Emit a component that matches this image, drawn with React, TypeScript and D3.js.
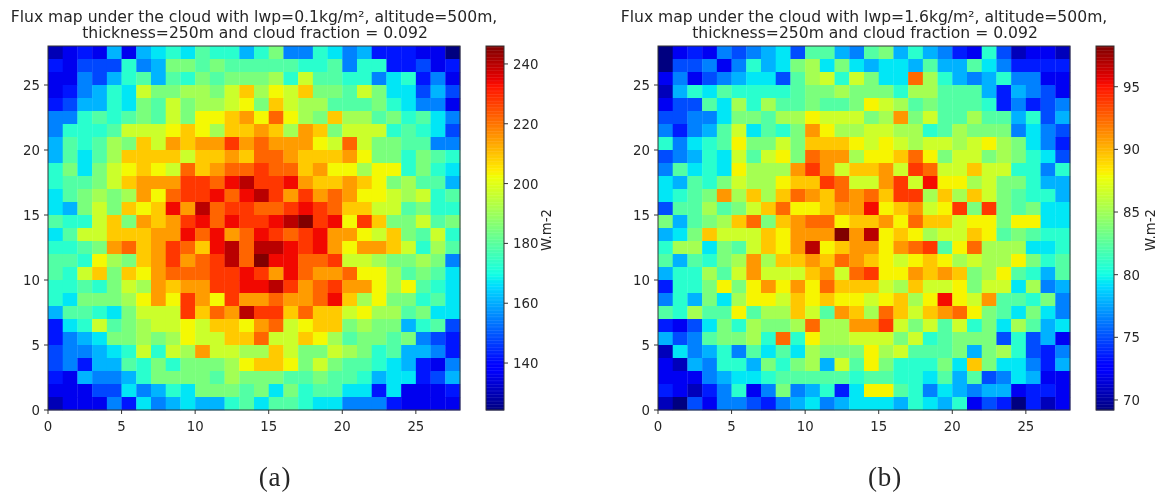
import React from "react";
import * as d3 from "d3";

const WIDTH = 1161;
const HEIGHT = 496;
const gridSize = 28;
const axisTicks = [0, 5, 10, 15, 20, 25];
const colorbarTicksA = [140, 160, 180, 200, 220, 240];
const colorbarTicksB = [70, 75, 80, 85, 90, 95];
const domainA: [number, number] = [124.3, 246];
const domainB: [number, number] = [69.2, 98.25];
const titleA = ["Flux map under the cloud with lwp=0.1kg/m², altitude=500m,", "thickness=250m and cloud fraction = 0.092"];
const titleB = ["Flux map under the cloud with lwp=1.6kg/m², altitude=500m,", "thickness=250m and cloud fraction = 0.092"];
const unitLabel = "W.m-2";

// rows from the top of the map (y = 27) to the bottom (y = 0)
const fluxA: number[][] = [
[130,136,142,136,161,136,161,167,173,167,179,173,173,161,173,185,155,155,173,167,155,161,142,142,142,136,136,124],
[142,136,148,148,148,173,155,161,185,185,179,185,179,179,179,179,179,173,173,179,155,173,173,142,142,148,136,142],
[136,136,155,148,161,173,179,161,179,173,185,179,185,185,185,191,173,197,179,179,173,173,155,167,173,142,155,136],
[136,142,155,161,173,167,197,185,185,191,191,185,197,209,191,203,197,209,185,185,179,197,185,167,167,148,161,148],
[142,148,161,161,173,167,185,179,197,185,191,191,197,203,185,209,197,191,191,179,179,179,185,173,167,155,155,136],
[155,155,173,179,173,179,185,179,197,185,203,203,209,215,203,222,203,191,185,209,191,191,179,185,173,179,167,155],
[155,173,173,173,179,197,197,197,203,209,203,191,209,209,215,209,191,215,209,185,197,197,197,173,179,173,167,148],
[161,179,173,179,191,185,209,197,215,209,215,215,228,215,222,215,215,215,203,197,222,197,185,185,179,179,155,155],
[161,179,167,179,191,209,209,209,209,197,209,209,215,209,222,222,215,209,209,209,215,203,185,185,173,185,179,173],
[173,185,167,185,197,203,209,203,197,222,209,215,222,222,228,222,222,209,215,203,203,191,203,203,173,185,173,167],
[173,179,179,185,197,209,215,215,215,228,228,222,234,240,228,228,234,215,209,209,215,209,203,185,191,179,179,161],
[167,179,185,191,185,191,215,203,222,228,228,234,222,234,240,228,215,228,215,222,215,203,203,197,191,197,173,179],
[167,161,185,197,185,209,203,209,234,215,240,222,228,228,222,222,228,234,228,222,209,209,197,197,179,185,173,173],
[179,173,173,197,209,185,215,209,215,228,234,222,234,228,228,234,240,246,228,234,203,228,209,185,185,197,179,185],
[167,179,197,197,209,209,209,215,215,234,222,234,215,222,234,228,222,228,234,215,215,203,197,209,185,179,197,173],
[173,173,179,185,215,222,209,215,228,222,209,234,240,222,240,240,234,228,234,215,203,215,215,209,197,173,191,179],
[179,179,173,203,191,185,209,215,228,215,222,228,240,222,246,234,234,222,222,228,197,197,191,185,185,191,185,155],
[179,173,197,209,185,209,203,215,222,222,222,228,228,234,228,215,234,222,215,215,222,203,203,191,179,185,179,167],
[173,173,179,173,185,197,191,215,209,215,215,228,228,234,234,240,228,215,222,228,215,215,203,191,203,179,173,167],
[173,167,185,185,185,191,203,215,203,228,215,203,228,215,215,222,215,215,222,234,209,191,203,185,185,173,179,167],
[161,179,179,173,167,185,197,197,197,228,209,222,215,240,228,228,209,222,209,209,197,203,191,191,179,185,167,167],
[142,167,173,197,179,185,191,197,197,203,197,209,209,203,215,222,197,203,209,209,185,191,185,185,161,173,179,148],
[142,155,161,167,185,185,191,185,191,203,197,197,209,209,222,197,197,209,203,191,179,185,185,179,185,155,148,142],
[148,155,155,161,167,173,197,173,197,191,215,197,197,191,191,209,197,185,185,197,191,185,173,179,161,161,155,142],
[148,155,142,161,161,179,173,185,173,185,185,185,191,203,209,209,203,185,197,185,179,179,173,167,161,142,136,155],
[142,136,161,155,155,161,173,185,185,185,185,179,191,185,185,185,179,179,185,179,179,173,161,167,167,142,148,161],
[136,136,136,148,148,167,155,161,173,167,185,185,185,179,185,167,185,173,179,179,167,167,142,167,136,136,136,142],
[130,136,136,136,155,142,167,155,161,167,161,161,173,179,167,179,179,173,167,167,155,155,155,142,136,136,136,136],
];

const fluxB: number[][] = [
[69.2,72.1,73.6,72.1,76.5,75,76.5,77.9,79.4,75,82.3,82.3,77.9,76.5,82.3,83.7,77.9,80.8,77.9,76.5,73.6,72.1,80.8,75,70.7,72.1,72.1,70.7],
[69.2,75,75,76.5,72.1,76.5,80.8,77.9,79.4,83.7,85.2,79.4,83.7,79.4,77.9,79.4,79.4,77.9,82.3,77.9,77.9,82.3,79.4,76.5,73.6,73.6,73.6,73.6],
[72.1,76.5,72.1,75,76.5,77.9,79.4,79.4,75,82.3,85.2,86.6,80.8,86.6,83.7,79.4,79.4,92.4,85.2,80.8,77.9,76.5,77.9,80.8,76.5,76.5,72.1,72.1],
[70.7,77.9,80.8,79.4,82.3,80.8,80.8,80.8,80.8,82.3,83.7,83.7,85.2,83.7,83.7,83.7,80.8,85.2,85.2,82.3,82.3,82.3,77.9,73.6,77.9,76.5,75,72.1],
[72.1,75,75,82.3,79.4,85.2,80.8,85.2,82.3,82.3,83.7,82.3,82.3,83.7,88.1,86.6,85.2,82.3,83.7,82.3,82.3,82.3,80.8,73.6,76.5,73.6,75,76.5],
[75,75,76.5,76.5,79.4,83.7,83.7,82.3,85.2,85.2,88.1,86.6,86.6,86.6,83.7,85.2,91,83.7,86.6,82.3,82.3,85.2,82.3,82.3,77.9,80.8,75,77.9],
[76.5,73.6,76.5,77.9,82.3,86.6,79.4,82.3,80.8,83.7,91,88.1,85.2,85.2,86.6,86.6,85.2,85.2,80.8,82.3,85.2,83.7,83.7,83.7,76.5,79.4,76.5,75],
[80.8,76.5,79.4,80.8,82.3,88.1,83.7,83.7,86.6,83.7,89.5,89.5,89.5,88.1,86.6,88.1,86.6,85.2,86.6,86.6,85.2,86.6,88.1,85.2,83.7,79.4,76.5,73.6],
[75,76.5,77.9,80.8,79.4,86.6,82.3,86.6,88.1,83.7,92.4,91,91,85.2,88.1,88.1,89.5,92.4,88.1,83.7,86.6,86.6,83.7,85.2,83.7,80.8,79.4,75],
[76.5,82.3,79.4,80.8,79.4,88.1,85.2,85.2,85.2,91,93.9,91,86.6,89.5,89.5,91,86.6,93.9,92.4,86.6,86.6,89.5,86.6,86.6,80.8,80.8,76.5,80.8],
[79.4,77.9,82.3,80.8,83.7,86.6,85.2,85.2,88.1,89.5,89.5,93.9,92.4,86.6,86.6,91,93.9,86.6,95.3,88.1,88.1,85.2,86.6,83.7,83.7,80.8,77.9,77.9],
[79.4,80.8,82.3,83.7,91,85.2,89.5,85.2,89.5,92.4,91,89.5,92.4,91,92.4,89.5,93.9,93.9,85.2,89.5,85.2,89.5,86.6,83.7,82.3,80.8,80.8,77.9],
[75,82.3,82.3,85.2,82.3,83.7,86.6,89.5,92.4,88.1,88.1,89.5,91,91,95.3,88.1,89.5,91,86.6,88.1,93.9,83.7,93.9,83.7,82.3,83.7,79.4,79.4],
[83.7,77.9,82.3,83.7,85.2,89.5,92.4,83.7,89.5,91,92.4,92.4,88.1,89.5,89.5,91,88.1,92.4,89.5,89.5,86.6,88.1,88.1,83.7,88.1,88.1,79.4,79.4],
[77.9,79.4,83.7,89.5,86.6,86.6,86.6,89.5,88.1,91,91,91,98.2,91,96.8,88.1,89.5,88.1,85.2,86.6,86.6,89.5,88.1,82.3,83.7,82.3,80.8,80.8],
[80.8,85.2,85.2,79.4,83.7,82.3,86.6,89.5,88.1,91,96.8,88.1,89.5,91,91,88.1,91,92.4,93.9,82.3,88.1,92.4,85.2,85.2,85.2,79.4,79.4,80.8],
[82.3,77.9,82.3,80.8,83.7,85.2,91,85.2,89.5,89.5,91,89.5,92.4,91,89.5,88.1,86.6,88.1,89.5,88.1,85.2,86.6,85.2,85.2,88.1,83.7,80.8,82.3],
[77.9,80.8,80.8,85.2,82.3,86.6,91,86.6,86.6,86.6,89.5,91,86.6,92.4,93.9,88.1,88.1,91,89.5,91,89.5,83.7,85.2,88.1,82.3,80.8,77.9,82.3],
[73.6,80.8,80.8,83.7,88.1,83.7,88.1,91,88.1,91,88.1,92.4,89.5,89.5,89.5,86.6,85.2,89.5,86.6,86.6,88.1,83.7,86.6,86.6,79.4,85.2,76.5,77.9],
[76.5,80.8,77.9,83.7,79.4,85.2,88.1,88.1,86.6,89.5,88.1,89.5,88.1,88.1,86.6,88.1,89.5,85.2,88.1,95.3,88.1,86.6,91,82.3,82.3,80.8,83.7,76.5],
[82.3,80.8,85.2,82.3,82.3,88.1,82.3,85.2,85.2,89.5,86.6,82.3,91,89.5,85.2,92.4,89.5,86.6,89.5,91,92.4,88.1,83.7,82.3,79.4,83.7,79.4,76.5],
[73.6,72.1,75,79.4,83.7,80.8,85.2,83.7,83.7,85.2,92.4,85.2,85.2,91,91,93.9,86.6,83.7,86.6,82.3,86.6,80.8,83.7,79.4,85.2,82.3,77.9,79.4],
[77.9,75,76.5,82.3,83.7,83.7,85.2,80.8,92.4,80.8,88.1,85.2,85.2,86.6,86.6,86.6,83.7,86.6,80.8,82.3,83.7,83.7,83.7,75,80.8,75,77.9,72.1],
[70.7,79.4,76.5,77.9,80.8,76.5,82.3,79.4,82.3,79.4,85.2,83.7,83.7,83.7,88.1,85.2,86.6,82.3,82.3,82.3,83.7,77.9,83.7,85.2,80.8,75,73.6,76.5],
[72.1,70.7,77.9,76.5,80.8,80.8,77.9,83.7,80.8,83.7,85.2,77.9,86.6,82.3,88.1,83.7,80.8,80.8,80.8,83.7,79.4,89.5,83.7,79.4,79.4,76.5,73.6,77.9],
[72.1,72.1,72.1,76.5,77.9,79.4,79.4,80.8,82.3,82.3,82.3,82.3,82.3,80.8,82.3,82.3,80.8,80.8,79.4,82.3,77.9,82.3,75,76.5,79.4,77.9,72.1,72.1],
[73.6,72.1,70.7,73.6,76.5,80.8,72.1,76.5,83.7,76.5,77.9,80.8,73.6,79.4,88.1,88.1,82.3,80.8,76.5,79.4,77.9,76.5,77.9,77.9,72.1,73.6,73.6,72.1],
[70.7,69.2,75,72.1,76.5,76.5,75,73.6,76.5,77.9,79.4,76.5,77.9,79.4,79.4,79.4,77.9,80.8,79.4,77.9,80.8,72.1,75,73.6,69.2,73.6,70.7,72.1],
];

const jetR = d3.scaleLinear([0, 0.35, 0.66, 0.89, 1], [0, 0, 1, 1, 0.5]).clamp(true);
const jetG = d3.scaleLinear([0, 0.125, 0.375, 0.64, 0.91, 1], [0, 0, 1, 1, 0, 0]).clamp(true);
const jetB = d3.scaleLinear([0, 0.11, 0.34, 0.65, 1], [0.5, 1, 1, 0, 0]).clamp(true);
const jet = (t: number) => d3.rgb(jetR(t) * 255, jetG(t) * 255, jetB(t) * 255).formatRgb();

const SANS = "'DejaVu Sans', sans-serif";
const INK = "#262626";

type PanelProps = {
  data: number[][];
  domain: [number, number];
  cbTicks: number[];
  title: string[];
  caption: string;
  left: number;
  captionX: number;
  unitX: number;
};

function Panel({ data, domain, cbTicks, title, caption, left, captionX, unitX }: PanelProps) {
  const plotW = 412;
  const top = 46;
  const bottom = 410;
  const x = d3.scaleLinear([0, gridSize], [left, left + plotW]);
  const y = d3.scaleLinear([0, gridSize], [bottom, top]);
  const norm = d3.scaleLinear(domain, [0, 1]).clamp(true);
  const cbLeft = left + plotW + 26;
  const cbW = 18;
  const cbY = d3.scaleLinear(domain, [bottom, top]);
  const cbSteps = d3.range(256);
  const cbStep = d3.scaleLinear([0, 256], domain);
  const cx = left + plotW / 2;
  return (
    <g>
      {data.map((row, i) =>
        row.map((v, j) => {
          const rowY = gridSize - 1 - i;
          return (
            <rect
              key={`${i}-${j}`}
              x={x(j)}
              y={y(rowY + 1)}
              width={x(j + 1) - x(j) + 0.3}
              height={y(rowY) - y(rowY + 1) + 0.3}
              fill={jet(norm(v))}
            />
          );
        })
      )}
      <rect x={left} y={top} width={plotW} height={bottom - top} fill="none" stroke="#333" strokeWidth={1} />
      {axisTicks.map((t) => (
        <g key={t} fontFamily={SANS} fontSize={13.3} fill={INK}>
          <line x1={x(t)} x2={x(t)} y1={bottom} y2={bottom + 4} stroke="#333" />
          <text x={x(t)} y={431} textAnchor="middle">{t}</text>
          <line x1={left - 4} x2={left} y1={y(t)} y2={y(t)} stroke="#333" />
          <text x={left - 8} y={y(t) + 5} textAnchor="end">{t}</text>
        </g>
      ))}
      <text fontFamily={SANS} fontSize={15.6} fill={INK} textAnchor="middle">
        <tspan x={cx} y={22}>{title[0]}</tspan>
        <tspan x={cx + 1} y={38}>{title[1]}</tspan>
      </text>
      {cbSteps.map((s) => (
        <rect
          key={s}
          x={cbLeft}
          y={cbY(cbStep(s + 1))}
          width={cbW}
          height={cbY(cbStep(s)) - cbY(cbStep(s + 1)) + 0.4}
          fill={jet(norm(cbStep(s + 0.5)))}
        />
      ))}
      <rect x={cbLeft} y={top} width={cbW} height={bottom - top} fill="none" stroke="#333" />
      {cbTicks.map((t) => (
        <g key={t} fontFamily={SANS} fontSize={13.3} fill={INK}>
          <line x1={cbLeft + cbW} x2={cbLeft + cbW + 4} y1={cbY(t)} y2={cbY(t)} stroke="#333" />
          <text x={cbLeft + cbW + 9} y={cbY(t) + 5}>{t}</text>
        </g>
      ))}
      <text
        transform={`translate(${unitX},230) rotate(-90)`}
        fontFamily={SANS}
        fontSize={13.3}
        fill={INK}
        textAnchor="middle"
        dominantBaseline="middle"
      >
        {unitLabel}
      </text>
      <text x={captionX} y={486} fontFamily="'Liberation Serif', serif" fontSize={27} letterSpacing={0.8} fill={INK} textAnchor="middle">
        {caption}
      </text>
    </g>
  );
}

export default function App() {
  return (
    <svg
      width={WIDTH}
      height={HEIGHT}
      viewBox={`0 0 ${WIDTH} ${HEIGHT}`}
      style={{ position: "absolute", left: 0, top: 0, background: "#fff", filter: "blur(0.45px)" }}
    >
      <Panel data={fluxA} domain={domainA} cbTicks={colorbarTicksA} title={titleA} caption="(a)" left={48} captionX={275} unitX={547} />
      <Panel data={fluxB} domain={domainB} cbTicks={colorbarTicksB} title={titleB} caption="(b)" left={658} captionX={885} unitX={1151} />
    </svg>
  );
}
